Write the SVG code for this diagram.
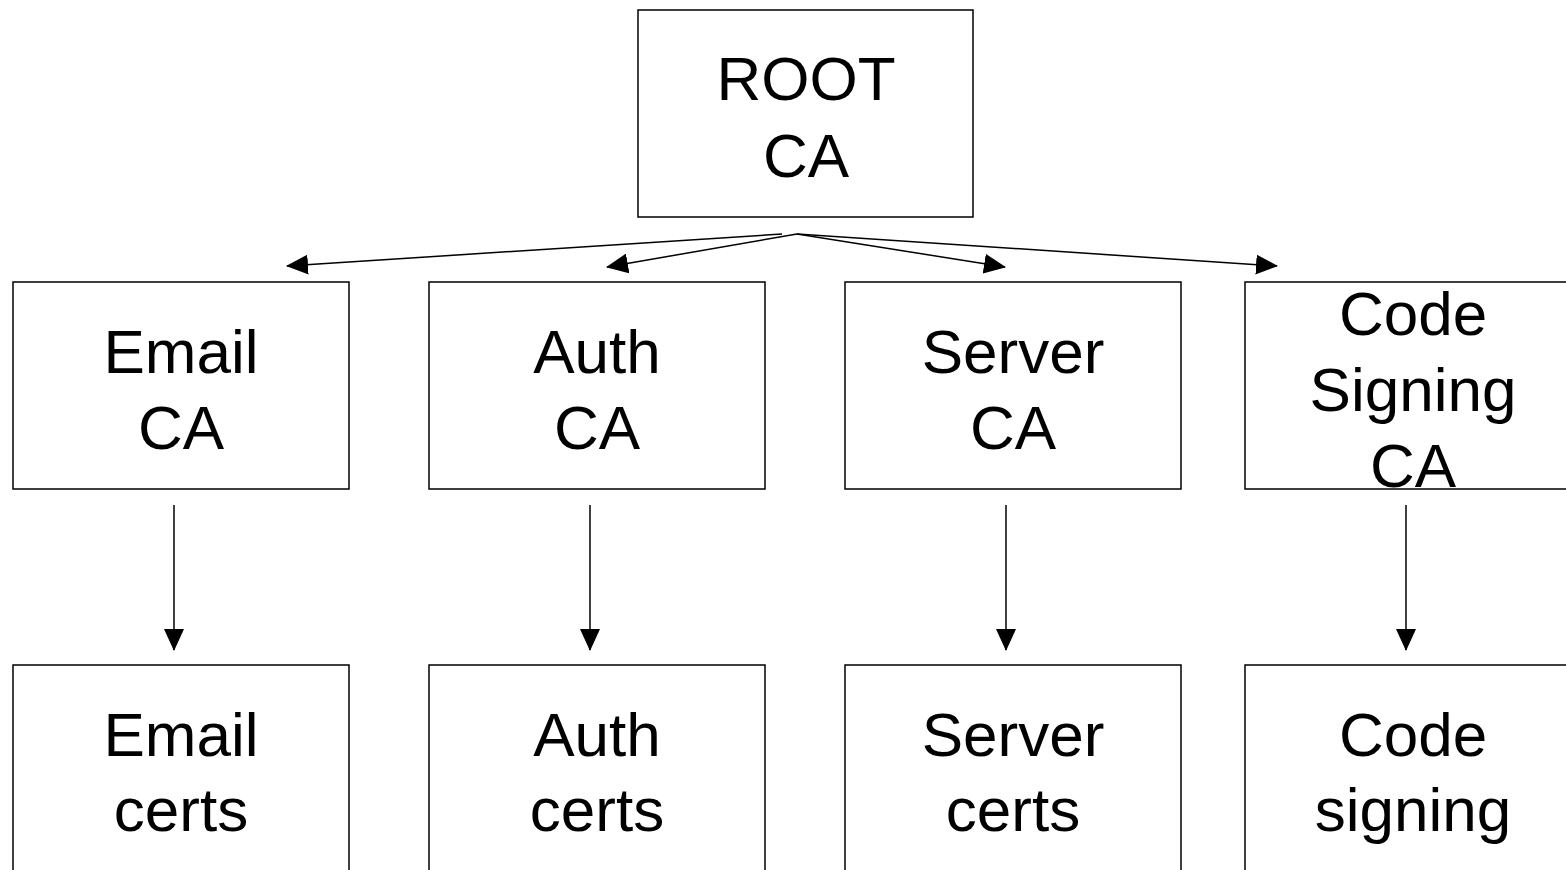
<svg xmlns="http://www.w3.org/2000/svg" width="1566" height="870" viewBox="0 0 1566 870">
<defs>
<style>
.box{fill:#fff;stroke:#000;stroke-width:1.5}
.lbl{font-family:"Liberation Sans",Arial,sans-serif;font-size:62px;fill:#000;text-anchor:middle}
.con{stroke:#000;stroke-width:1.5;fill:none;marker-end:url(#ah)}
</style>
<marker id="ah" markerUnits="userSpaceOnUse" markerWidth="22" markerHeight="20" refX="21" refY="10" orient="auto" viewBox="0 0 22 20">
<path d="M0,0 L22,10 L0,20 z" fill="#000"/>
</marker>
</defs>
<rect width="1566" height="870" fill="#fff"/>
<g id="root">
<rect class="box" x="638" y="10" width="335" height="207"/>
<text class="lbl" x="806" y="100">ROOT</text>
<text class="lbl" x="806" y="177">CA</text>
</g>
<g id="email-ca">
<rect class="box" x="13" y="282" width="336" height="207"/>
<text class="lbl" x="181" y="373">Email</text>
<text class="lbl" x="181" y="449">CA</text>
</g>
<g id="auth-ca">
<rect class="box" x="429" y="282" width="336" height="207"/>
<text class="lbl" x="597" y="373">Auth</text>
<text class="lbl" x="597" y="449">CA</text>
</g>
<g id="server-ca">
<rect class="box" x="845" y="282" width="336" height="207"/>
<text class="lbl" x="1013" y="373">Server</text>
<text class="lbl" x="1013" y="449">CA</text>
</g>
<g id="code-ca">
<rect class="box" x="1245" y="282" width="336" height="207"/>
<text class="lbl" x="1413" y="335">Code</text>
<text class="lbl" x="1413" y="411">Signing</text>
<text class="lbl" x="1413" y="487">CA</text>
</g>
<g id="email-certs">
<rect class="box" x="13" y="665" width="336" height="220"/>
<text class="lbl" x="181" y="756">Email</text>
<text class="lbl" x="181" y="831">certs</text>
</g>
<g id="auth-certs">
<rect class="box" x="429" y="665" width="336" height="220"/>
<text class="lbl" x="597" y="756">Auth</text>
<text class="lbl" x="597" y="831">certs</text>
</g>
<g id="server-certs">
<rect class="box" x="845" y="665" width="336" height="220"/>
<text class="lbl" x="1013" y="756">Server</text>
<text class="lbl" x="1013" y="831">certs</text>
</g>
<g id="code-certs">
<rect class="box" x="1245" y="665" width="336" height="220"/>
<text class="lbl" x="1413" y="756">Code</text>
<text class="lbl" x="1413" y="831">signing</text>
</g>
<g id="connectors">
<line class="con" x1="782" y1="234" x2="287" y2="266"/>
<line class="con" x1="797" y1="234" x2="607" y2="267"/>
<line class="con" x1="797" y1="234" x2="1005" y2="267"/>
<line class="con" x1="797" y1="234" x2="1277" y2="266"/>
<line class="con" x1="174" y1="505" x2="174" y2="650"/>
<line class="con" x1="590" y1="505" x2="590" y2="650"/>
<line class="con" x1="1006" y1="505" x2="1006" y2="650"/>
<line class="con" x1="1406" y1="505" x2="1406" y2="650"/>
</g>
</svg>
